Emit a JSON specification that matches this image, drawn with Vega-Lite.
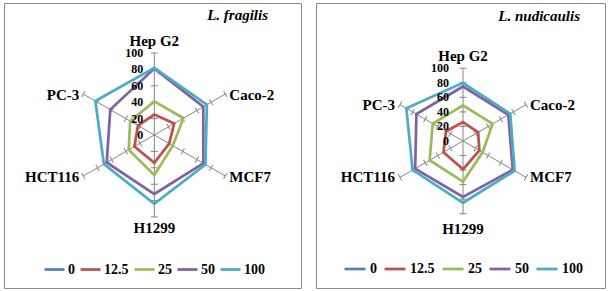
{
  "$schema": "https://vega.github.io/schema/vega-lite/v6.json",
  "background": "white",
  "padding": {"left": 3, "top": 2, "right": 0, "bottom": 0},
  "spacing": 13,
  "config": {"font": "Liberation Serif", "view": {"stroke": "#8a8a8a", "strokeWidth": 1}, "text": {"font": "Liberation Serif", "color": "black"}},
  "datasets": {
    "vals": [
      {"panel": "L. fragilis", "conc": "0", "cell": "Hep G2", "value": 0},
      {"panel": "L. fragilis", "conc": "0", "cell": "Caco-2", "value": 0},
      {"panel": "L. fragilis", "conc": "0", "cell": "MCF7", "value": 0},
      {"panel": "L. fragilis", "conc": "0", "cell": "H1299", "value": 0},
      {"panel": "L. fragilis", "conc": "0", "cell": "HCT116", "value": 0},
      {"panel": "L. fragilis", "conc": "0", "cell": "PC-3", "value": 0},
      {"panel": "L. fragilis", "conc": "12.5", "cell": "Hep G2", "value": 25},
      {"panel": "L. fragilis", "conc": "12.5", "cell": "Caco-2", "value": 28},
      {"panel": "L. fragilis", "conc": "12.5", "cell": "MCF7", "value": 21},
      {"panel": "L. fragilis", "conc": "12.5", "cell": "H1299", "value": 34},
      {"panel": "L. fragilis", "conc": "12.5", "cell": "HCT116", "value": 28},
      {"panel": "L. fragilis", "conc": "12.5", "cell": "PC-3", "value": 23},
      {"panel": "L. fragilis", "conc": "25", "cell": "Hep G2", "value": 41},
      {"panel": "L. fragilis", "conc": "25", "cell": "Caco-2", "value": 41},
      {"panel": "L. fragilis", "conc": "25", "cell": "MCF7", "value": 26},
      {"panel": "L. fragilis", "conc": "25", "cell": "H1299", "value": 49},
      {"panel": "L. fragilis", "conc": "25", "cell": "HCT116", "value": 36},
      {"panel": "L. fragilis", "conc": "25", "cell": "PC-3", "value": 34},
      {"panel": "L. fragilis", "conc": "50", "cell": "Hep G2", "value": 81},
      {"panel": "L. fragilis", "conc": "50", "cell": "Caco-2", "value": 69},
      {"panel": "L. fragilis", "conc": "50", "cell": "MCF7", "value": 69},
      {"panel": "L. fragilis", "conc": "50", "cell": "H1299", "value": 72},
      {"panel": "L. fragilis", "conc": "50", "cell": "HCT116", "value": 67},
      {"panel": "L. fragilis", "conc": "50", "cell": "PC-3", "value": 62},
      {"panel": "L. fragilis", "conc": "100", "cell": "Hep G2", "value": 82},
      {"panel": "L. fragilis", "conc": "100", "cell": "Caco-2", "value": 74},
      {"panel": "L. fragilis", "conc": "100", "cell": "MCF7", "value": 72},
      {"panel": "L. fragilis", "conc": "100", "cell": "H1299", "value": 84},
      {"panel": "L. fragilis", "conc": "100", "cell": "HCT116", "value": 71},
      {"panel": "L. fragilis", "conc": "100", "cell": "PC-3", "value": 83},
      {"panel": "L. nudicaulis", "conc": "0", "cell": "Hep G2", "value": 0},
      {"panel": "L. nudicaulis", "conc": "0", "cell": "Caco-2", "value": 0},
      {"panel": "L. nudicaulis", "conc": "0", "cell": "MCF7", "value": 0},
      {"panel": "L. nudicaulis", "conc": "0", "cell": "H1299", "value": 0},
      {"panel": "L. nudicaulis", "conc": "0", "cell": "HCT116", "value": 0},
      {"panel": "L. nudicaulis", "conc": "0", "cell": "PC-3", "value": 0},
      {"panel": "L. nudicaulis", "conc": "12.5", "cell": "Hep G2", "value": 26},
      {"panel": "L. nudicaulis", "conc": "12.5", "cell": "Caco-2", "value": 24},
      {"panel": "L. nudicaulis", "conc": "12.5", "cell": "MCF7", "value": 26},
      {"panel": "L. nudicaulis", "conc": "12.5", "cell": "H1299", "value": 39},
      {"panel": "L. nudicaulis", "conc": "12.5", "cell": "HCT116", "value": 31},
      {"panel": "L. nudicaulis", "conc": "12.5", "cell": "PC-3", "value": 27},
      {"panel": "L. nudicaulis", "conc": "25", "cell": "Hep G2", "value": 49},
      {"panel": "L. nudicaulis", "conc": "25", "cell": "Caco-2", "value": 47},
      {"panel": "L. nudicaulis", "conc": "25", "cell": "MCF7", "value": 31},
      {"panel": "L. nudicaulis", "conc": "25", "cell": "H1299", "value": 56},
      {"panel": "L. nudicaulis", "conc": "25", "cell": "HCT116", "value": 53},
      {"panel": "L. nudicaulis", "conc": "25", "cell": "PC-3", "value": 48},
      {"panel": "L. nudicaulis", "conc": "50", "cell": "Hep G2", "value": 75},
      {"panel": "L. nudicaulis", "conc": "50", "cell": "Caco-2", "value": 72},
      {"panel": "L. nudicaulis", "conc": "50", "cell": "MCF7", "value": 79},
      {"panel": "L. nudicaulis", "conc": "50", "cell": "H1299", "value": 77},
      {"panel": "L. nudicaulis", "conc": "50", "cell": "HCT116", "value": 76},
      {"panel": "L. nudicaulis", "conc": "50", "cell": "PC-3", "value": 74},
      {"panel": "L. nudicaulis", "conc": "100", "cell": "Hep G2", "value": 80},
      {"panel": "L. nudicaulis", "conc": "100", "cell": "Caco-2", "value": 75},
      {"panel": "L. nudicaulis", "conc": "100", "cell": "MCF7", "value": 82},
      {"panel": "L. nudicaulis", "conc": "100", "cell": "H1299", "value": 85},
      {"panel": "L. nudicaulis", "conc": "100", "cell": "HCT116", "value": 80},
      {"panel": "L. nudicaulis", "conc": "100", "cell": "PC-3", "value": 90}
    ],
    "axes": [
      {"cell": "Hep G2", "ticks": [20, 40, 60, 80, 100]},
      {"cell": "Caco-2", "ticks": [20, 40, 60, 80, 100]},
      {"cell": "MCF7", "ticks": [20, 40, 60, 80, 100]},
      {"cell": "H1299", "ticks": [20, 40, 60, 80, 100]},
      {"cell": "HCT116", "ticks": [20, 40, 60, 80, 100]},
      {"cell": "PC-3", "ticks": [20, 40, 60, 80, 100]}
    ],
    "rings": [{"r": 0}, {"r": 20}, {"r": 40}, {"r": 60}, {"r": 80}, {"r": 100}]
  },
  "hconcat": [
    {
      "width": 297,
      "height": 285,
      "title": {"text": "L. fragilis", "anchor": "end", "frame": "group", "offset": -20, "dx": -33, "font": "Liberation Serif", "fontSize": 15, "fontWeight": "bold", "fontStyle": "italic", "color": "black"},
      "layer": [
        {
          "data": {"name": "axes"},
          "transform": [
            {"calculate": "indexof(['Hep G2','Caco-2','MCF7','H1299','HCT116','PC-3'], datum.cell) * PI / 3", "as": "theta"},
            {"calculate": "0", "as": "o"},
            {"calculate": "100 * sin(datum.theta)", "as": "ex"},
            {"calculate": "100 * cos(datum.theta)", "as": "ey"}
          ],
          "mark": {"type": "rule", "color": "#868686", "strokeWidth": 1},
          "encoding": {
            "x": {"field": "o", "type": "quantitative", "scale": {"domain": [-183.3, 178.9], "nice": false, "zero": false}, "axis": null},
            "y": {"field": "o", "type": "quantitative", "scale": {"domain": [-186.6, 161.0], "nice": false, "zero": false}, "axis": null},
            "x2": {"field": "ex"},
            "y2": {"field": "ey"}
          }
        },
        {
          "data": {"name": "axes"},
          "transform": [
            {"flatten": ["ticks"], "as": ["r"]},
            {"calculate": "indexof(['Hep G2','Caco-2','MCF7','H1299','HCT116','PC-3'], datum.cell) * PI / 3", "as": "theta"},
            {"calculate": "datum.r * sin(datum.theta)", "as": "tx"},
            {"calculate": "datum.r * cos(datum.theta)", "as": "ty"},
            {"calculate": "datum.theta * 180 / PI", "as": "deg"}
          ],
          "mark": {"type": "point", "shape": "stroke", "size": 49, "filled": false, "color": "#868686", "strokeWidth": 1, "opacity": 1},
          "encoding": {
            "x": {"field": "tx", "type": "quantitative", "axis": null},
            "y": {"field": "ty", "type": "quantitative", "axis": null},
            "angle": {"field": "deg", "type": "quantitative", "scale": null}
          }
        },
        {
          "data": {"name": "vals"},
          "transform": [
            {"filter": "datum.panel === 'L. fragilis'"},
            {"calculate": "indexof(['Hep G2','Caco-2','MCF7','H1299','HCT116','PC-3'], datum.cell) * PI / 3", "as": "theta"},
            {"calculate": "datum.value * sin(datum.theta)", "as": "px"},
            {"calculate": "datum.value * cos(datum.theta)", "as": "py"}
          ],
          "mark": {"type": "line", "interpolate": "linear-closed", "strokeWidth": 2.75},
          "encoding": {
            "x": {"field": "px", "type": "quantitative", "axis": null},
            "y": {"field": "py", "type": "quantitative", "axis": null},
            "order": {"field": "theta", "type": "quantitative"},
            "color": {
              "field": "conc", "type": "nominal",
              "scale": {"domain": ["0", "12.5", "25", "50", "100"], "range": ["#4F81BD", "#C0504D", "#9BBB59", "#8064A2", "#4BACC6"]},
              "legend": {"orient": "none", "legendX": 39, "legendY": 255, "direction": "horizontal", "gridAlign": "none", "title": null, "symbolType": "stroke", "symbolSize": 400, "symbolStrokeWidth": 2.75, "labelFont": "Liberation Serif", "labelFontSize": 14, "labelFontWeight": "bold", "labelColor": "black", "labelOffset": 2, "columnPadding": 0}
            }
          }
        },
        {
          "data": {"name": "rings"},
          "transform": [{"calculate": "0", "as": "o"}],
          "mark": {"type": "text", "align": "right", "baseline": "middle", "dx": -11, "font": "Liberation Serif", "fontSize": 12, "fontWeight": "bold", "color": "black"},
          "encoding": {
            "x": {"field": "o", "type": "quantitative", "axis": null},
            "y": {"field": "r", "type": "quantitative", "axis": null},
            "text": {"field": "r", "type": "quantitative"}
          }
        },
        {
          "data": {"name": "axes"},
          "transform": [
            {"filter": "datum.cell === 'Hep G2'"},
            {"calculate": "0", "as": "lx"},
            {"calculate": "100", "as": "ly"}
          ],
          "mark": {"type": "text", "align": "center", "baseline": "alphabetic", "dy": -7, "font": "Liberation Serif", "fontSize": 15, "fontWeight": "bold", "color": "black"},
          "encoding": {
            "x": {"field": "lx", "type": "quantitative", "axis": null},
            "y": {"field": "ly", "type": "quantitative", "axis": null},
            "text": {"field": "cell"}
          }
        },
        {
          "data": {"name": "axes"},
          "transform": [
            {"filter": "datum.cell === 'H1299'"},
            {"calculate": "0", "as": "lx"},
            {"calculate": "-100", "as": "ly"}
          ],
          "mark": {"type": "text", "align": "center", "baseline": "alphabetic", "dy": 16, "font": "Liberation Serif", "fontSize": 15, "fontWeight": "bold", "color": "black"},
          "encoding": {
            "x": {"field": "lx", "type": "quantitative", "axis": null},
            "y": {"field": "ly", "type": "quantitative", "axis": null},
            "text": {"field": "cell"}
          }
        },
        {
          "data": {"name": "axes"},
          "transform": [
            {"filter": "datum.cell === 'Caco-2' || datum.cell === 'MCF7'"},
            {"calculate": "indexof(['Hep G2','Caco-2','MCF7','H1299','HCT116','PC-3'], datum.cell) * PI / 3", "as": "theta"},
            {"calculate": "100 * sin(datum.theta)", "as": "lx"},
            {"calculate": "100 * cos(datum.theta)", "as": "ly"}
          ],
          "mark": {"type": "text", "align": "left", "baseline": "alphabetic", "dx": 4, "dy": 6, "font": "Liberation Serif", "fontSize": 15, "fontWeight": "bold", "color": "black"},
          "encoding": {
            "x": {"field": "lx", "type": "quantitative", "axis": null},
            "y": {"field": "ly", "type": "quantitative", "axis": null},
            "text": {"field": "cell"}
          }
        },
        {
          "data": {"name": "axes"},
          "transform": [
            {"filter": "datum.cell === 'HCT116' || datum.cell === 'PC-3'"},
            {"calculate": "indexof(['Hep G2','Caco-2','MCF7','H1299','HCT116','PC-3'], datum.cell) * PI / 3", "as": "theta"},
            {"calculate": "100 * sin(datum.theta)", "as": "lx"},
            {"calculate": "100 * cos(datum.theta)", "as": "ly"}
          ],
          "mark": {"type": "text", "align": "right", "baseline": "alphabetic", "dx": -4, "dy": 6, "font": "Liberation Serif", "fontSize": 15, "fontWeight": "bold", "color": "black"},
          "encoding": {
            "x": {"field": "lx", "type": "quantitative", "axis": null},
            "y": {"field": "ly", "type": "quantitative", "axis": null},
            "text": {"field": "cell"}
          }
        }
      ]
    },
    {
      "width": 289,
      "height": 285,
      "title": {"text": "L. nudicaulis", "anchor": "end", "frame": "group", "offset": -21, "dx": -25, "font": "Liberation Serif", "fontSize": 15, "fontWeight": "bold", "fontStyle": "italic", "color": "black"},
      "layer": [
        {
          "data": {"name": "axes"},
          "transform": [
            {"calculate": "indexof(['Hep G2','Caco-2','MCF7','H1299','HCT116','PC-3'], datum.cell) * PI / 3", "as": "theta"},
            {"calculate": "0", "as": "o"},
            {"calculate": "100 * sin(datum.theta)", "as": "ex"},
            {"calculate": "100 * cos(datum.theta)", "as": "ey"}
          ],
          "mark": {"type": "rule", "color": "#868686", "strokeWidth": 1},
          "encoding": {
            "x": {"field": "o", "type": "quantitative", "scale": {"domain": [-202.2, 195.3], "nice": false, "zero": false}, "axis": null},
            "y": {"field": "o", "type": "quantitative", "scale": {"domain": [-202.2, 189.8], "nice": false, "zero": false}, "axis": null},
            "x2": {"field": "ex"},
            "y2": {"field": "ey"}
          }
        },
        {
          "data": {"name": "axes"},
          "transform": [
            {"flatten": ["ticks"], "as": ["r"]},
            {"calculate": "indexof(['Hep G2','Caco-2','MCF7','H1299','HCT116','PC-3'], datum.cell) * PI / 3", "as": "theta"},
            {"calculate": "datum.r * sin(datum.theta)", "as": "tx"},
            {"calculate": "datum.r * cos(datum.theta)", "as": "ty"},
            {"calculate": "datum.theta * 180 / PI", "as": "deg"}
          ],
          "mark": {"type": "point", "shape": "stroke", "size": 49, "filled": false, "color": "#868686", "strokeWidth": 1, "opacity": 1},
          "encoding": {
            "x": {"field": "tx", "type": "quantitative", "axis": null},
            "y": {"field": "ty", "type": "quantitative", "axis": null},
            "angle": {"field": "deg", "type": "quantitative", "scale": null}
          }
        },
        {
          "data": {"name": "vals"},
          "transform": [
            {"filter": "datum.panel === 'L. nudicaulis'"},
            {"calculate": "indexof(['Hep G2','Caco-2','MCF7','H1299','HCT116','PC-3'], datum.cell) * PI / 3", "as": "theta"},
            {"calculate": "datum.value * sin(datum.theta)", "as": "px"},
            {"calculate": "datum.value * cos(datum.theta)", "as": "py"}
          ],
          "mark": {"type": "line", "interpolate": "linear-closed", "strokeWidth": 2.75},
          "encoding": {
            "x": {"field": "px", "type": "quantitative", "axis": null},
            "y": {"field": "py", "type": "quantitative", "axis": null},
            "order": {"field": "theta", "type": "quantitative"},
            "color": {
              "field": "conc", "type": "nominal",
              "scale": {"domain": ["0", "12.5", "25", "50", "100"], "range": ["#4F81BD", "#C0504D", "#9BBB59", "#8064A2", "#4BACC6"]},
              "legend": {"orient": "none", "legendX": 27, "legendY": 254, "direction": "horizontal", "gridAlign": "none", "title": null, "symbolType": "stroke", "symbolSize": 441, "symbolStrokeWidth": 2.75, "labelFont": "Liberation Serif", "labelFontSize": 14, "labelFontWeight": "bold", "labelColor": "black", "labelOffset": 3, "columnPadding": 2}
            }
          }
        },
        {
          "data": {"name": "rings"},
          "transform": [{"calculate": "0", "as": "o"}],
          "mark": {"type": "text", "align": "right", "baseline": "middle", "dx": -14, "font": "Liberation Serif", "fontSize": 12, "fontWeight": "bold", "color": "black"},
          "encoding": {
            "x": {"field": "o", "type": "quantitative", "axis": null},
            "y": {"field": "r", "type": "quantitative", "axis": null},
            "text": {"field": "r", "type": "quantitative"}
          }
        },
        {
          "data": {"name": "axes"},
          "transform": [
            {"filter": "datum.cell === 'Hep G2'"},
            {"calculate": "0", "as": "lx"},
            {"calculate": "100", "as": "ly"}
          ],
          "mark": {"type": "text", "align": "center", "baseline": "alphabetic", "dy": -7, "font": "Liberation Serif", "fontSize": 15, "fontWeight": "bold", "color": "black"},
          "encoding": {
            "x": {"field": "lx", "type": "quantitative", "axis": null},
            "y": {"field": "ly", "type": "quantitative", "axis": null},
            "text": {"field": "cell"}
          }
        },
        {
          "data": {"name": "axes"},
          "transform": [
            {"filter": "datum.cell === 'H1299'"},
            {"calculate": "0", "as": "lx"},
            {"calculate": "-100", "as": "ly"}
          ],
          "mark": {"type": "text", "align": "center", "baseline": "alphabetic", "dy": 20, "font": "Liberation Serif", "fontSize": 15, "fontWeight": "bold", "color": "black"},
          "encoding": {
            "x": {"field": "lx", "type": "quantitative", "axis": null},
            "y": {"field": "ly", "type": "quantitative", "axis": null},
            "text": {"field": "cell"}
          }
        },
        {
          "data": {"name": "axes"},
          "transform": [
            {"filter": "datum.cell === 'Caco-2' || datum.cell === 'MCF7'"},
            {"calculate": "indexof(['Hep G2','Caco-2','MCF7','H1299','HCT116','PC-3'], datum.cell) * PI / 3", "as": "theta"},
            {"calculate": "100 * sin(datum.theta)", "as": "lx"},
            {"calculate": "100 * cos(datum.theta)", "as": "ly"}
          ],
          "mark": {"type": "text", "align": "left", "baseline": "alphabetic", "dx": 4, "dy": 5, "font": "Liberation Serif", "fontSize": 15, "fontWeight": "bold", "color": "black"},
          "encoding": {
            "x": {"field": "lx", "type": "quantitative", "axis": null},
            "y": {"field": "ly", "type": "quantitative", "axis": null},
            "text": {"field": "cell"}
          }
        },
        {
          "data": {"name": "axes"},
          "transform": [
            {"filter": "datum.cell === 'HCT116' || datum.cell === 'PC-3'"},
            {"calculate": "indexof(['Hep G2','Caco-2','MCF7','H1299','HCT116','PC-3'], datum.cell) * PI / 3", "as": "theta"},
            {"calculate": "100 * sin(datum.theta)", "as": "lx"},
            {"calculate": "100 * cos(datum.theta)", "as": "ly"}
          ],
          "mark": {"type": "text", "align": "right", "baseline": "alphabetic", "dx": -5, "dy": 5, "font": "Liberation Serif", "fontSize": 15, "fontWeight": "bold", "color": "black"},
          "encoding": {
            "x": {"field": "lx", "type": "quantitative", "axis": null},
            "y": {"field": "ly", "type": "quantitative", "axis": null},
            "text": {"field": "cell"}
          }
        }
      ]
    }
  ],
  "resolve": {"scale": {"x": "independent", "y": "independent", "color": "independent"}, "legend": {"color": "independent"}}
}
